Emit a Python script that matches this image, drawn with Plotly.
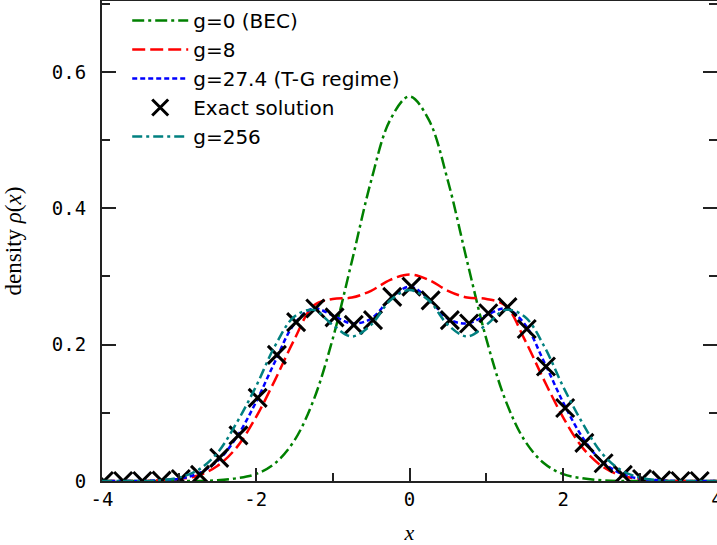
import plotly.graph_objects as go

# Density profiles on a regular grid
x_grid = [-4.0, -3.75, -3.5, -3.25, -3.0, -2.75, -2.5, -2.25, -2.0, -1.75, -1.5,
          -1.25, -1.0, -0.75, -0.5, -0.25, 0.0, 0.25, 0.5, 0.75, 1.0, 1.25, 1.5,
          1.75, 2.0, 2.25, 2.5, 2.75, 3.0, 3.25, 3.5, 3.75, 4.0]

rho_g0 = [0.0, 0.0, 0.0, 0.0, 0.0, 0.0, 0.001, 0.004, 0.010, 0.026, 0.059,
          0.118, 0.208, 0.322, 0.440, 0.530, 0.564, 0.530, 0.440, 0.322, 0.208,
          0.118, 0.059, 0.026, 0.010, 0.004, 0.001, 0.0, 0.0, 0.0, 0.0, 0.0, 0.0]

rho_g8 = [0.0, 0.0, 0.0, 0.001, 0.003, 0.008, 0.022, 0.049, 0.093, 0.148, 0.207,
          0.257, 0.267, 0.269, 0.279, 0.295, 0.303, 0.295, 0.279, 0.269, 0.267,
          0.257, 0.207, 0.148, 0.093, 0.049, 0.022, 0.008, 0.003, 0.001, 0.0, 0.0, 0.0]

rho_g27 = [0.0, 0.0, 0.0, 0.001, 0.003, 0.011, 0.029, 0.064, 0.115, 0.175, 0.230,
           0.253, 0.243, 0.231, 0.238, 0.267, 0.285, 0.267, 0.238, 0.231, 0.243,
           0.253, 0.230, 0.175, 0.115, 0.064, 0.029, 0.011, 0.003, 0.001, 0.0, 0.0, 0.0]

rho_g256 = [0.0, 0.0, 0.0, 0.001, 0.005, 0.016, 0.041, 0.085, 0.138, 0.198, 0.241,
            0.251, 0.229, 0.212, 0.229, 0.265, 0.280, 0.265, 0.229, 0.212, 0.229,
            0.251, 0.241, 0.198, 0.138, 0.085, 0.041, 0.016, 0.005, 0.001, 0.0, 0.0, 0.0]

# Exact solution samples
x_exact = [-3.975, -3.725, -3.475, -3.225, -2.975, -2.725, -2.475, -2.225,
           -1.975, -1.725, -1.475, -1.225, -0.975, -0.725, -0.475, -0.225,
           0.025, 0.275, 0.525, 0.775, 1.025, 1.275, 1.525, 1.775,
           2.025, 2.275, 2.525, 2.775, 3.025, 3.275, 3.525, 3.775]
rho_exact = [0.0, 0.0, 0.0, 0.0005, 0.003, 0.009, 0.034, 0.067,
             0.122, 0.185, 0.233, 0.253, 0.240, 0.229, 0.236, 0.270,
             0.285, 0.265, 0.236, 0.231, 0.246, 0.255, 0.223, 0.168,
             0.107, 0.056, 0.026, 0.009, 0.003, 0.001, 0.0, 0.0]

x_ticks = [-4, -2, 0, 2, 4]
y_ticks = [0, 0.2, 0.4, 0.6]
y_tick_text = ["0", "0.2", "0.4", "0.6"]

LW = 2.5
fig = go.Figure()

fig.add_trace(go.Scatter(x=x_grid, y=rho_g0, mode="lines", name="g=0 (BEC)",
                         line=dict(color="#008000", width=LW, dash="12px,4px,3px,4px",
                                   shape="spline", smoothing=1)))
fig.add_trace(go.Scatter(x=x_grid, y=rho_g8, mode="lines", name="g=8",
                         line=dict(color="#ff0000", width=LW, dash="13px,5px",
                                   shape="spline", smoothing=1)))
fig.add_trace(go.Scatter(x=x_grid, y=rho_g27, mode="lines", name="g=27.4 (T-G regime)",
                         line=dict(color="#0000ff", width=LW, dash="5px,3px",
                                   shape="spline", smoothing=1)))
fig.add_trace(go.Scatter(x=x_exact, y=rho_exact, mode="markers", name="Exact solution",
                         cliponaxis=True,
                         marker=dict(symbol="x-thin", size=18, color="black",
                                     line=dict(color="black", width=3))))
fig.add_trace(go.Scatter(x=x_grid, y=rho_g256, mode="lines", name="g=256",
                         line=dict(color="#008080", width=LW, dash="10px,4px,3px,4px",
                                   shape="spline", smoothing=1)))

# invisible trace to carry the right-hand tick marks
fig.add_trace(go.Scatter(x=[0], y=[0], yaxis="y2", mode="markers",
                         marker=dict(opacity=0), showlegend=False, hoverinfo="skip"))

tick_font = dict(family="DejaVu Sans Mono", size=19, color="black")
axis_line = dict(showline=True, linecolor="#222222", linewidth=2)

fig.update_layout(
    width=717, height=545,
    margin=dict(l=102, r=0, t=1, b=64, autoexpand=False),
    paper_bgcolor="white", plot_bgcolor="white",
    showlegend=True,
    legend=dict(x=0.041, y=1.0, xanchor="left", yanchor="top",
                bgcolor="rgba(0,0,0,0)", borderwidth=0,
                font=dict(family="DejaVu Sans", size=20, color="black"),
                itemwidth=56),
    xaxis=dict(range=[-4, 4], tickvals=x_ticks, ticktext=[str(v) for v in x_ticks],
               ticks="inside", ticklen=13, tickwidth=1.5, tickcolor="#222222",
               minor=dict(dtick=1, ticks="inside", ticklen=8, tickwidth=1.5, tickcolor="#222222"),
               mirror=True, showgrid=False, zeroline=False, tickfont=tick_font,
               ticklabeloverflow="allow", automargin=False,
               title=dict(text="<i>x</i>", font=dict(family="Liberation Serif", size=22, color="black"),
                          standoff=16),
               **axis_line),
    yaxis=dict(range=[0, 0.704], tickvals=y_ticks, ticktext=y_tick_text,
               ticks="inside", ticklen=14, tickwidth=1.5, tickcolor="#222222",
               minor=dict(dtick=0.1, ticks="inside", ticklen=8, tickwidth=1.5, tickcolor="#222222"),
               showgrid=False, zeroline=False, tickfont=tick_font, ticklabelstandoff=10,
               automargin=False,
               title=dict(text="density <i>ρ</i>(<i>x</i>)",
                          font=dict(family="Liberation Serif", size=23, color="black"),
                          standoff=24),
               **axis_line),
    yaxis2=dict(range=[0, 0.704], overlaying="y", side="right", matches="y",
                tickvals=y_ticks, showticklabels=False, automargin=False,
                ticks="inside", ticklen=14, tickwidth=1.5, tickcolor="#222222",
                minor=dict(dtick=0.1, ticks="inside", ticklen=8, tickwidth=1.5, tickcolor="#222222"),
                showgrid=False, zeroline=False, showline=False),
)

fig.write_html("out.html")
